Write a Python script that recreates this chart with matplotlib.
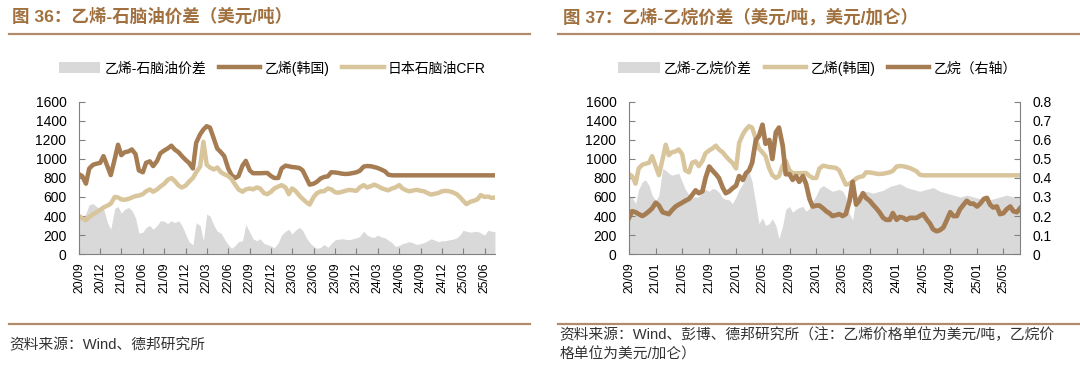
import matplotlib
matplotlib.use('Agg')
import matplotlib.pyplot as plt
from matplotlib.patches import Patch
from matplotlib.lines import Line2D
import pandas as pd

plt.rcParams['font.family'] = ['Liberation Sans', 'Noto Sans CJK SC', 'DejaVu Sans']

# semi-monthly sample dates, 2020-09 .. 2025-07
dates = pd.date_range('2020-09-01', '2025-07-15', freq='SMS')

# 乙烯(韩国), USD/t
ethylene = [840, 820, 740, 900, 940, 950, 960, 1030, 920, 830,
            1000, 1150, 1040, 1070, 1080, 1100, 1050, 880, 860, 960,
            975, 925, 980, 1060, 1090, 1110, 1140, 1100, 1070, 1030,
            990, 960, 900, 1170, 1260, 1310, 1345, 1330, 1210, 1110,
            1070, 1030, 900, 830, 800, 820, 930, 980, 880, 850,
            850, 850, 852, 853, 820, 800, 800, 900, 930, 923,
            915, 912, 905, 880, 800, 730, 740, 760, 795, 810,
            818, 860, 858, 853, 845, 842, 845, 852, 860, 875,
            920, 926, 923, 915, 905, 890, 870, 835, 828, 828,
            828, 828, 828, 828, 828, 828, 828, 828, 828, 828,
            828, 828, 828, 828, 828, 828, 828, 828, 828, 828,
            828, 828, 828, 828, 828, 828, 828, 828]

# 日本石脑油CFR, USD/t
naphtha = [400, 375, 355, 390, 420, 440, 465, 490, 510, 530,
           600, 595, 575, 570, 580, 595, 610, 615, 630, 660,
           680, 655, 680, 710, 740, 780, 800, 770, 720, 700,
           720, 760, 800, 860, 920, 1180, 940, 910, 890, 910,
           860, 840, 820, 790, 730, 680, 655, 680, 690, 680,
           700, 690, 640, 630, 655, 690, 710, 725, 700, 630,
           690, 665, 615, 580, 545, 520, 600, 640, 660, 660,
           690, 680, 650, 645, 655, 665, 675, 670, 665, 700,
           725, 700, 715, 730, 715, 695, 680, 670, 690, 700,
           725, 690, 670, 660, 670, 675, 665, 660, 640, 625,
           635, 642, 660, 665, 660, 650, 630, 600, 560, 525,
           550, 560, 575, 620, 600, 605, 590, 595]

# 乙烯-石脑油价差, USD/t
spread_naphtha = [380, 350, 430, 520, 530, 500, 470, 480, 330, 260,
                  480, 500, 430, 470, 490, 460, 380, 220, 230, 280,
                  300, 260, 300, 350, 345, 320, 350, 330, 350, 300,
                  210, 130, 95, 330, 300, 140, 420, 400, 300, 240,
                  220, 160, 100, 60, 90, 130, 140, 310, 230, 160,
                  140, 160, 110, 100, 85, 65, 120, 200, 240, 260,
                  210, 250, 280, 250, 170, 120, 80, 60, 70, 100,
                  70, 110, 150, 155, 160, 155, 150, 160, 170, 185,
                  240, 200, 180, 175, 200, 180, 170, 145, 120, 80,
                  90, 110, 120, 130, 115, 100, 110, 120, 140, 160,
                  145, 130, 140, 140, 150, 155, 170, 200, 250, 240,
                  230, 235, 240, 220, 200, 250, 240, 235]

# 乙烷, USD/gal (right axis)
ethane = [0.19, 0.225, 0.22, 0.21, 0.20, 0.21, 0.225, 0.24, 0.27, 0.255,
          0.22, 0.215, 0.21, 0.23, 0.25, 0.26, 0.27, 0.28, 0.29, 0.31,
          0.335, 0.32, 0.33, 0.40, 0.46, 0.44, 0.42, 0.40, 0.35, 0.32,
          0.33, 0.345, 0.36, 0.41, 0.39, 0.425, 0.44, 0.48, 0.60, 0.62,
          0.68, 0.58, 0.60, 0.50, 0.64, 0.665, 0.57, 0.42, 0.42, 0.39,
          0.41, 0.38, 0.41, 0.37, 0.29, 0.25, 0.255, 0.255, 0.24, 0.225,
          0.215, 0.20, 0.205, 0.21, 0.20, 0.21, 0.28, 0.38, 0.26, 0.28,
          0.32, 0.295, 0.28, 0.26, 0.24, 0.22, 0.19, 0.18, 0.18, 0.215,
          0.18, 0.195, 0.19, 0.18, 0.19, 0.19, 0.19, 0.20, 0.21, 0.185,
          0.16, 0.13, 0.12, 0.125, 0.14, 0.175, 0.22, 0.20, 0.20, 0.235,
          0.26, 0.28, 0.265, 0.265, 0.25, 0.265, 0.29, 0.295, 0.26, 0.245,
          0.25, 0.21, 0.215, 0.235, 0.25, 0.225, 0.22, 0.24]

# 乙烯-乙烷价差, USD/t
spread_ethane = [600, 600, 530, 680, 760, 780, 720, 620, 560, 620,
                 900, 880, 850, 830, 840, 850, 760, 680, 620, 600,
                 600, 600, 660, 680, 660, 690, 680, 650, 590, 575,
                 570, 530, 600, 680, 740, 820, 860, 760, 520, 320,
                 380, 300, 320, 370, 300, 160, 300, 470, 500, 440,
                 470, 490, 500, 450, 480, 550, 620, 690, 720, 700,
                 680, 660, 670, 680, 660, 600, 420, 360, 600, 630,
                 650, 660, 650, 640, 650, 660, 670, 690, 710, 720,
                 730, 740, 720, 700, 690, 680, 670, 660, 670, 680,
                 690, 700, 680, 660, 650, 640, 630, 620, 610, 600,
                 610, 620, 610, 600, 590, 580, 570, 560, 570, 580,
                 590, 600, 610, 620, 610, 600, 600, 590]

DARK = '#A67C52'
LIGHT = '#D9C59C'
GREY = '#D9D9D9'
TITLE_C = '#A0703F'
RULE_C = '#B08B6C'
SPINE_C = '#808080'
TEXT_C = '#333333'

fig = plt.figure(figsize=(10.8, 3.84), dpi=100)

ax1 = fig.add_axes([0.0731, 0.3385, 0.3852, 0.396])
ax2 = fig.add_axes([0.5824, 0.3385, 0.3620, 0.396])


def style_axis(ax, months):
    ax.set_xlim(dates[0], dates[-1])
    ax.set_ylim(0, 1600)
    ax.set_yticks(range(0, 1601, 200))
    ticks = pd.date_range('2020-09-01', '2025-07-01', freq=f'{months}MS')
    ax.set_xticks(ticks)
    ax.set_xticklabels([t.strftime('%y/%m') for t in ticks], rotation=90)
    for s in ['top', 'right']:
        ax.spines[s].set_visible(False)
    for s in ['left', 'bottom']:
        ax.spines[s].set_color(SPINE_C)
    ax.tick_params(axis='both', direction='in', color=SPINE_C, length=4)
    ax.tick_params(axis='y', labelsize=10, pad=9)
    ax.tick_params(axis='x', labelsize=8.8, pad=6)


# left panel
ax1.fill_between(dates, 0, spread_naphtha, color=GREY, lw=0)
ax1.plot(dates, ethylene, color=DARK, lw=3.2)
ax1.plot(dates, naphtha, color=LIGHT, lw=3.2)
style_axis(ax1, 3)

# right panel
ax2.fill_between(dates, 0, spread_ethane, color=GREY, lw=0)
ax2.plot(dates, ethylene, color=LIGHT, lw=3.2)
style_axis(ax2, 4)
ax2r = ax2.twinx()
ax2r.plot(dates, ethane, color=DARK, lw=3.4)
ax2r.set_ylim(0, 0.8)
ax2r.set_yticks([i / 10 for i in range(9)])
ax2r.set_yticklabels(['0'] + [f'{i / 10:.1f}' for i in range(1, 9)])
for s in ['top', 'left', 'bottom']:
    ax2r.spines[s].set_visible(False)
ax2r.spines['right'].set_color(SPINE_C)
ax2r.tick_params(axis='y', direction='in', labelsize=10, color=SPINE_C,
                 length=4, pad=9)

# legends
leg_kw = dict(loc='center', frameon=False, ncol=3, fontsize=10,
              handlelength=3.0, handleheight=0.8, handletextpad=0.3,
              columnspacing=0.9)
fig.legend([Patch(facecolor=GREY, edgecolor='none'),
            Line2D([], [], color=DARK, lw=3.2),
            Line2D([], [], color=LIGHT, lw=3.2)],
           ['乙烯-石脑油价差', '乙烯(韩国)', '日本石脑油CFR'],
           bbox_to_anchor=(0.252, 0.823), **leg_kw)
fig.legend([Patch(facecolor=GREY, edgecolor='none'),
            Line2D([], [], color=LIGHT, lw=3.2),
            Line2D([], [], color=DARK, lw=3.2)],
           ['乙烯-乙烷价差', '乙烯(韩国)', '乙烷（右轴）'],
           bbox_to_anchor=(0.757, 0.823), **leg_kw)

# titles, rules, sources
fig.text(0.011, 0.958, '图 36：乙烯-石脑油价差（美元/吨）', color=TITLE_C,
         fontsize=12.6, fontweight='bold', va='center', ha='left')
fig.text(0.521, 0.958, '图 37：乙烯-乙烷价差（美元/吨，美元/加仑）', color=TITLE_C,
         fontsize=12.6, fontweight='bold', va='center', ha='left')

for x0, x1 in [(9, 530), (558, 1080)]:
    for y in (34, 324):
        fig.add_artist(Line2D([x0 / 1080, x1 / 1080], [1 - y / 384, 1 - y / 384],
                              color=RULE_C, lw=1.6))

fig.text(0.009, 1 - 345 / 384, '资料来源：Wind、德邦研究所', fontsize=10.6,
         color=TEXT_C, va='center', ha='left')
fig.text(0.518, 1 - 335 / 384,
         '资料来源：Wind、彭博、德邦研究所（注：乙烯价格单位为美元/吨，乙烷价',
         fontsize=10.6, color=TEXT_C, va='center', ha='left')
fig.text(0.518, 1 - 355 / 384, '格单位为美元/加仑）', fontsize=10.6,
         color=TEXT_C, va='center', ha='left')

fig.savefig('out.png', dpi=100)
